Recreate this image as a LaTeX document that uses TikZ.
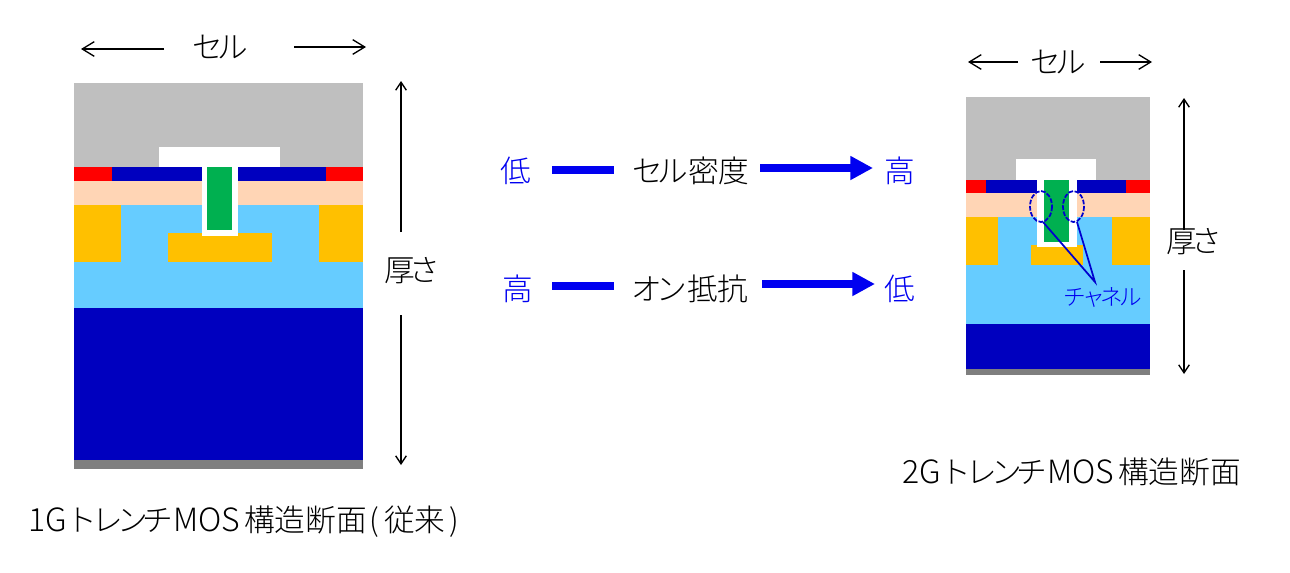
\documentclass[tikz,border=0pt]{standalone}
\usepackage{fontspec}
\setmainfont{Noto Sans CJK JP}[UprightFont={* Light}]
\usetikzlibrary{arrows.meta}
\definecolor{cGray}{HTML}{BFBFBF}
\definecolor{cDark}{HTML}{7F7F7F}
\definecolor{cRed}{HTML}{FF0000}
\definecolor{cNavy}{HTML}{0000BF}
\definecolor{cPeach}{HTML}{FFD5B5}
\definecolor{cOrange}{HTML}{FFC000}
\definecolor{cSky}{HTML}{66CCFF}
\definecolor{cGreen}{HTML}{00B050}
\definecolor{cBlue}{HTML}{0000F0}
\newcommand{\tightkana}[1]{{\addfontfeature{LetterSpace=-18}#1}}
\newcommand{\capline}[1]{{\fontsize{24}{26}\selectfont #1}}
\tikzset{
  x=0.75pt,y=-0.75pt,
  lbl/.style={inner sep=0pt,font=\fontsize{23}{25}\selectfont},
  bluelbl/.style={lbl,text=cBlue},
  captext/.style={inner sep=0pt,anchor=west,font=\fontsize{23}{25}\selectfont},
  thin arrow/.style={-{Straight Barb[length=9pt,width=11pt]},line width=1pt},
  dim arrow/.style={-{Straight Barb[length=6pt,width=8pt]},line width=1pt},
  bar/.style={cBlue,line width=6pt},
  bar arrow/.style={cBlue,line width=6pt,-{Triangle[length=17pt,width=17pt]}},
  chan/.style={cNavy!70!cBlue,line width=1.3pt},
}
\newcommand{\lay}[5]{\fill[#1] (#2,#3) rectangle (#4,#5);}
\begin{document}
\begin{tikzpicture}
\useasboundingbox (0,0) rectangle (1290,572);
% device 1
\lay{cGray}{74}{83}{363}{167}
\lay{white}{159}{147}{280}{167}
\lay{cPeach}{74}{181}{363}{205}
\lay{cSky}{74}{205}{363}{308}
\lay{cNavy}{74}{308}{363}{460}
\lay{cDark}{74}{460}{363}{469}
\lay{cRed}{74}{167}{112}{181}
\lay{cRed}{326}{167}{363}{181}
\lay{cNavy}{112}{167}{326}{181}
\lay{cOrange}{74}{205}{121}{262}
\lay{cOrange}{319}{205}{363}{262}
\lay{cOrange}{168}{233}{272}{262}
\lay{white}{202}{167}{238}{236}
\lay{cGreen}{207}{167}{232}{230}
% device 2
\lay{cGray}{966}{97}{1150}{180}
\lay{white}{1016}{159}{1096}{180}
\lay{cPeach}{966}{193}{1150}{217}
\lay{cSky}{966}{217}{1150}{324}
\lay{cNavy}{966}{324}{1150}{369}
\lay{cDark}{966}{369}{1150}{375}
\lay{cRed}{966}{180}{986}{193}
\lay{cRed}{1126}{180}{1150}{193}
\lay{cNavy}{986}{180}{1126}{193}
\lay{cOrange}{966}{217}{998}{265}
\lay{cOrange}{1112}{217}{1150}{265}
\lay{cOrange}{1031}{245}{1083}{265}
\lay{white}{1037}{180}{1077}{247}
\lay{cGreen}{1044}{180}{1069}{242}
% channel marks
\node[bluelbl,font=\fontsize{17}{19}\selectfont] (ch) at (1103,297) {\tightkana{チャネル}};
\coordinate (chtip) at (1095,282);
\coordinate (el) at (1043,222);
\coordinate (er) at (1077,222);
\draw[chan,dash pattern=on 3.5pt off 1.2pt] (1041,206.5) ellipse [x radius=11,y radius=15.5];
\draw[chan,dash pattern=on 3.5pt off 1.2pt] (1073.5,206.5) ellipse [x radius=10.5,y radius=15.5];
\draw[chan] (el) -- (chtip) -- (er);
% cell and thickness labels, device 1
\node[lbl] (cell1) at (220,47) {\tightkana{セル}};
\coordinate (c1l) at (81,49); \coordinate (c1lb) at (164,49);
\coordinate (c1r) at (366,47); \coordinate (c1rb) at (294,47);
\draw[thin arrow] (c1lb) -- (c1l);
\draw[thin arrow] (c1rb) -- (c1r);
\node[lbl] (th1) at (412,271) {\tightkana{厚さ}};
\coordinate (t1u) at (401,81); \coordinate (t1ub) at (401,232);
\coordinate (t1d) at (401,465); \coordinate (t1db) at (401,315);
\draw[dim arrow] (t1ub) -- (t1u);
\draw[dim arrow] (t1db) -- (t1d);
% device 2
\node[lbl] (cell2) at (1058,62) {\tightkana{セル}};
\coordinate (c2l) at (968,62); \coordinate (c2lb) at (1018,62);
\coordinate (c2r) at (1152,62); \coordinate (c2rb) at (1100,62);
\draw[thin arrow] (c2lb) -- (c2l);
\draw[thin arrow] (c2rb) -- (c2r);
\node[lbl] (th2) at (1194,242) {\tightkana{厚さ}};
\coordinate (t2u) at (1184,98); \coordinate (t2ub) at (1184,230);
\coordinate (t2d) at (1184,374); \coordinate (t2db) at (1184,270);
\draw[dim arrow] (t2ub) -- (t2u);
\draw[dim arrow] (t2db) -- (t2d);
% centre
\node[bluelbl] (lo1) at (516,171) {低};
\node[lbl] (dens) at (691,171) {\tightkana{セル}密度};
\node[bluelbl] (hi1) at (900,171) {高};
\node[bluelbl] (hi2) at (518,289) {高};
\node[lbl] (ron) at (690,289) {\tightkana{オン}抵抗};
\node[bluelbl] (lo2) at (900,289) {低};
\coordinate (b1a) at (552,170); \coordinate (b1b) at (614,170);
\coordinate (a1a) at (760,168); \coordinate (a1b) at (873,168);
\coordinate (b2a) at (552,286); \coordinate (b2b) at (614,286);
\coordinate (a2a) at (762,284); \coordinate (a2b) at (875,284);
\draw[bar] (b1a) -- (b1b);
\draw[bar arrow] (a1a) -- (a1b);
\draw[bar] (b2a) -- (b2b);
\draw[bar arrow] (a2a) -- (a2b);
% captions
\node[captext] (cap1) at (28,522) {\capline{1G}\tightkana{トレンチ}\capline{MOS}\kern3pt 構造断面\kern2pt (\kern4pt 従来\kern3pt )};
\node[captext] (cap2) at (902,472) {\capline{2G}\tightkana{トレンチ}\capline{MOS}\kern3pt 構造断面};
\end{tikzpicture}
\end{document}
